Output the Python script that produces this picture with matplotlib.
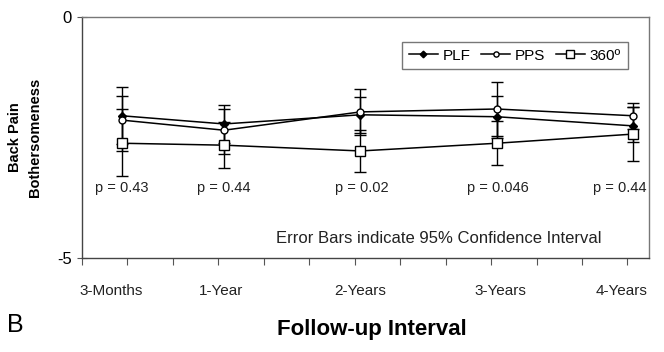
import numpy as np
import matplotlib
matplotlib.use("Agg")
import matplotlib.pyplot as plt
import matplotlib.transforms as mtransforms
from matplotlib.lines import Line2D

plt.rcParams['font.family'] = ['Liberation Sans', 'DejaVu Sans']

# data
months = [3, 12, 24, 36, 48]
intervals = ["3-Months", "1-Year", "2-Years", "3-Years", "4-Years"]
p_values = ["p = 0.43", "p = 0.44", "p = 0.02", "p = 0.046", "p = 0.44"]

plf_mean = [-2.05, -2.22, -2.03, -2.07, -2.26]
plf_hi = [-1.45, -1.83, -1.66, -1.63, -1.87]
plf_lo = [-2.79, -2.61, -2.41, -2.51, -2.59]

pps_mean = [-2.14, -2.35, -1.97, -1.91, -2.05]
pps_hi = [-1.64, -1.91, -1.50, -1.36, -1.79]
pps_lo = [-2.63, -2.84, -2.44, -2.47, -2.32]

s360_mean = [-2.62, -2.66, -2.78, -2.62, -2.43]
s360_hi = [-1.91, -2.17, -2.34, -2.16, -1.86]
s360_lo = [-3.30, -3.14, -3.22, -3.07, -2.98]

fig = plt.figure(figsize=(6.64, 3.52), dpi=100)
ax = fig.add_axes([0.1235, 0.267, 0.854, 0.685])

series = [
    ("PLF", plf_mean, plf_lo, plf_hi, dict(marker='D', markersize=4.5, markerfacecolor='black')),
    ("PPS", pps_mean, pps_lo, pps_hi, dict(marker='o', markersize=5, markerfacecolor='white')),
    ("360º", s360_mean, s360_lo, s360_hi, dict(marker='s', markersize=7, markerfacecolor='white')),
]
handles = []
for name, m, lo, hi, style in series:
    m = np.array(m)
    yerr = [m - np.array(lo), np.array(hi) - m]
    ax.errorbar(months, m, yerr=yerr, color='black', ecolor='black', elinewidth=1.0,
                capsize=4, capthick=1.0, linewidth=1.1, markeredgecolor='black',
                markeredgewidth=1.0, **style)
    handles.append(Line2D([], [], color='black', linewidth=1.1, markeredgecolor='black',
                          markeredgewidth=1.0, label=name, **style))

ax.set_xlim(-0.5, 49.4)
ax.set_ylim(-5, 0)
ax.set_xticks(np.arange(-0.5, 48, 4))
ax.set_xticklabels([])
ax.tick_params(axis='x', direction='out', length=5, color='#555555')
ax.set_yticks([0, -5])
ax.set_yticklabels(['0', '-5'], fontsize=12)
ax.tick_params(axis='y', direction='inout', length=7, color='#555555', pad=4)
for sp in ax.spines.values():
    sp.set_color('#777777')
    sp.set_linewidth(1.0)
ax.spines['left'].set_color('#444444')
ax.spines['bottom'].set_color('#444444')

trans = mtransforms.blended_transform_factory(ax.transData, ax.transAxes)
label_x = [2.1, 11.75, 24.0, 36.3, 47.0]
for x, lab in zip(label_x, intervals):
    ax.text(x, -0.135, lab, transform=trans, ha='center', va='center', fontsize=11, color='#222222')
p_x = [3.0, 12.0, 24.1, 36.1, 46.8]
for x, p in zip(p_x, p_values):
    ax.text(x, 0.291, p, transform=trans, ha='center', va='center', fontsize=10.5, color='#222222')

ax.text(0.629, 0.083, "Error Bars indicate 95% Confidence Interval", transform=ax.transAxes,
        ha='center', va='center', fontsize=12, color='#222222')

leg = ax.legend(handles=handles, loc='upper right', bbox_to_anchor=(0.962, 0.897), ncol=3,
                frameon=True, fancybox=False, edgecolor='#555555', fontsize=11,
                handlelength=1.9, columnspacing=0.7, handletextpad=0.3, borderpad=0.45,
                borderaxespad=0, markerscale=0.75)
leg.get_frame().set_linewidth(1.0)

fig.text(0.038, 0.61, "Back Pain\nBothersomeness", rotation=90, ha='center', va='center',
         fontsize=10.5, fontweight='bold', linespacing=1.5)
fig.text(0.56, 0.065, "Follow-up Interval", ha='center', va='center', fontsize=16, fontweight='bold')
fig.text(0.023, 0.077, "B", ha='center', va='center', fontsize=18)

fig.savefig("out.png", dpi=100)
